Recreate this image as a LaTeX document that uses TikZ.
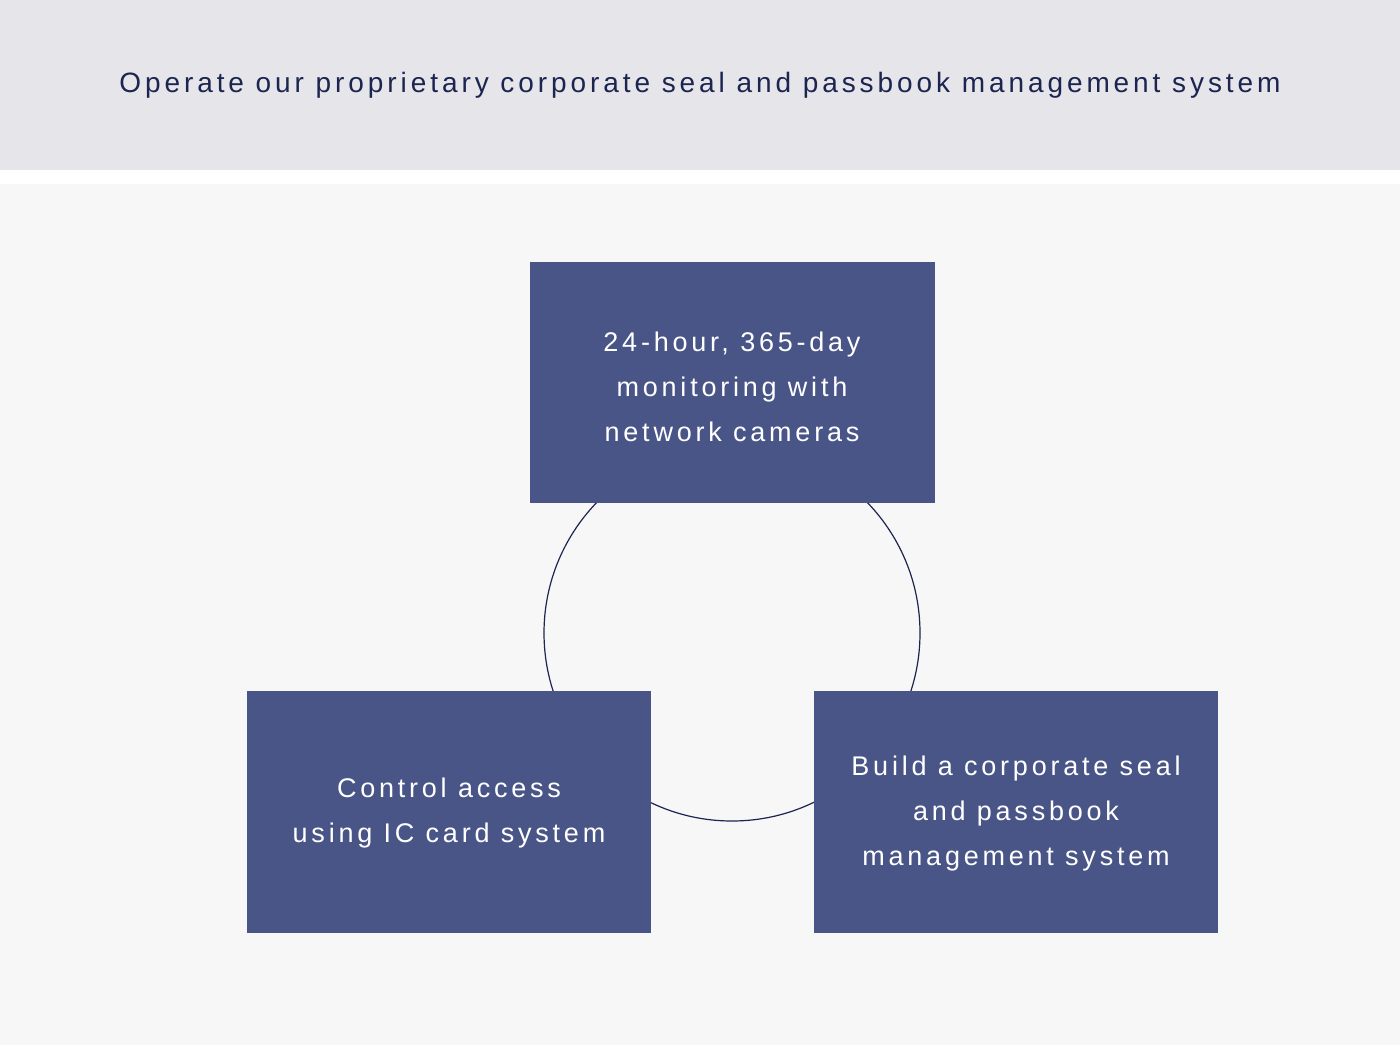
\documentclass[tikz,border=0pt]{standalone}
\usepackage{fontspec}
\setmainfont{Liberation Sans}[LetterSpace=14]
\definecolor{band}{HTML}{E6E5EA}
\definecolor{bg}{HTML}{F7F7F7}
\definecolor{boxc}{HTML}{4A5587}
\definecolor{navy}{HTML}{1C2550}
\begin{document}
\begin{tikzpicture}[x=0.5pt,y=-0.5pt,
  card/.style={fill=boxc,draw=none,text=white,align=center,font=\fontsize{13.5}{22.5}\selectfont}]
\useasboundingbox (0,0) rectangle (1400,1045);
\fill[white] (0,0) rectangle (1400,1045);
\fill[band] (0,0) rectangle (1400,170);
\fill[bg] (0,184) rectangle (1400,1045);
\node[text=navy,font=\fontsize{14}{17}\selectfont] (title) at (700,85) {Operate our proprietary corporate seal and passbook management system};
\node[draw=navy,line width=0.6pt,circle,minimum size=376*0.5pt,inner sep=0] (ring) at (732,633) {};
\fill[card] (530,262) rectangle (935,503);
\fill[card] (247,691) rectangle (651,933);
\fill[card] (814,691) rectangle (1218,933);
\node[card,fill=none] (top) at (732,387) {24-hour, 365-day\\monitoring with\\network cameras};
\node[card,fill=none] (left) at (449,813) {Control access\\using IC card system};
\node[card,fill=none] (right) at (1016,813) {Build a corporate seal\\and passbook\\management system};
\end{tikzpicture}
\end{document}
